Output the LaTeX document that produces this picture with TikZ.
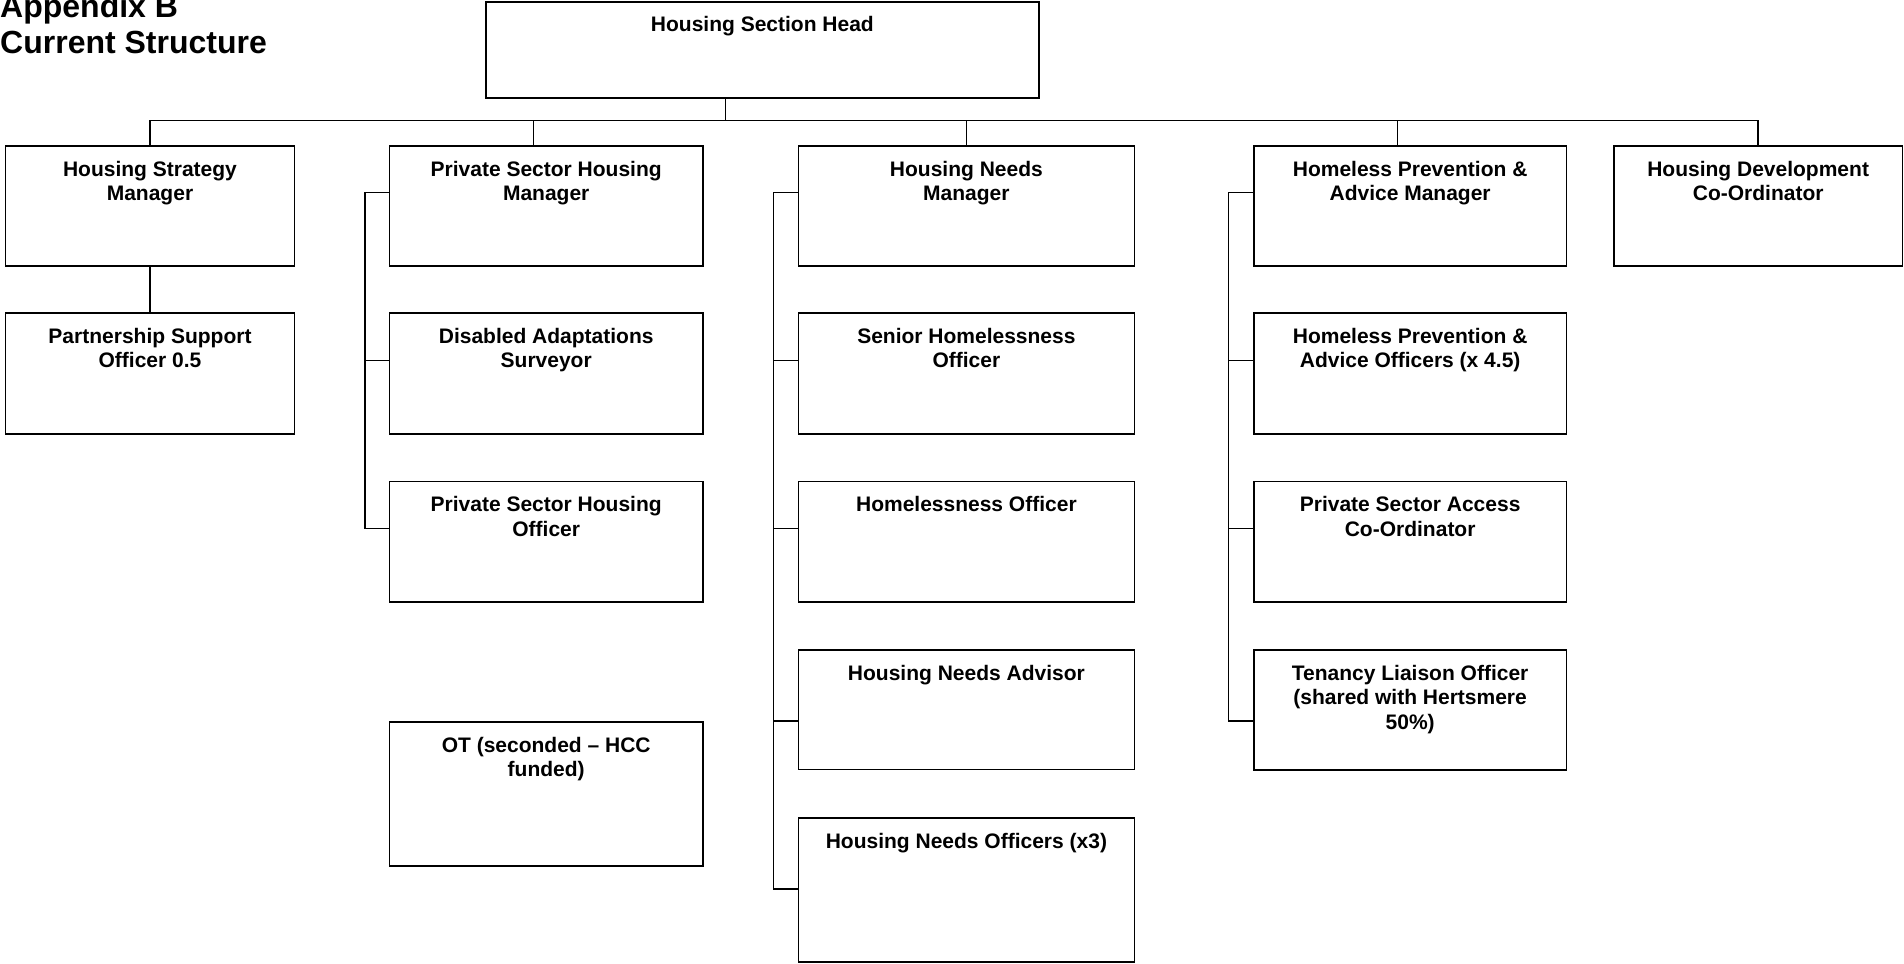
\documentclass[tikz,border=0pt]{standalone}
\usepackage{fontspec}
\setmainfont{Liberation Sans}
\begin{document}
\begin{tikzpicture}[x=1pt,y=-1pt,
  box/.style={draw, line width=1.8pt, rectangle, inner sep=0pt, anchor=north west},
  lbl/.style={anchor=north, inner sep=0pt, align=center, font=\fontsize{21}{24.5}\selectfont\bfseries},
  conn/.style={line width=1.5pt}]
\useasboundingbox (0,0) rectangle (1904,964);

% title
\node[anchor=north west, inner sep=0pt, align=left, font=\fontsize{32}{36.6}\selectfont\bfseries] (title) at (0,-6) {Appendix B\\Current Structure};

% boxes
\node[box, minimum width=553pt, minimum height=96pt] (head) at (485,1) {};
\node[box, minimum width=289pt, minimum height=120.3pt] (hsm) at (4.6,145) {};
\node[box, minimum width=313.4pt, minimum height=120.3pt] (pshm) at (388.6,145) {};
\node[box, minimum width=336pt, minimum height=120.3pt] (hnm) at (797.5,145) {};
\node[box, minimum width=312.5pt, minimum height=120.3pt] (hpam) at (1253,145) {};
\node[box, minimum width=288.5pt, minimum height=120.3pt] (hdc) at (1613,145) {};

\node[box, minimum width=289pt, minimum height=121pt] (pso) at (4.6,312.3) {};
\node[box, minimum width=313.4pt, minimum height=121pt] (das) at (388.6,312.3) {};
\node[box, minimum width=313.4pt, minimum height=120.5pt] (psho) at (388.6,480.5) {};
\node[box, minimum width=313.4pt, minimum height=144pt] (ot) at (388.6,721) {};

\node[box, minimum width=336pt, minimum height=121pt] (sho) at (797.5,312.3) {};
\node[box, minimum width=336pt, minimum height=120.5pt] (ho) at (797.5,480.5) {};
\node[box, minimum width=336pt, minimum height=119.5pt] (hna) at (797.5,649) {};
\node[box, minimum width=336pt, minimum height=144pt] (hno) at (797.5,817) {};

\node[box, minimum width=312.5pt, minimum height=121pt] (hpao) at (1253,312.3) {};
\node[box, minimum width=312.5pt, minimum height=120.5pt] (psac) at (1253,480.5) {};
\node[box, minimum width=312.5pt, minimum height=120pt] (tlo) at (1253,649) {};

% labels
\node[lbl] (l-head) at ([yshift=-15.4pt]head.north) {Housing Section Head};
\node[lbl] (l-hsm) at ([yshift=-15.7pt]hsm.north) {Housing Strategy\\Manager};
\node[lbl] (l-pshm) at ([yshift=-15.7pt]pshm.north) {Private Sector Housing\\Manager};
\node[lbl] (l-hnm) at ([yshift=-15.7pt]hnm.north) {Housing Needs\\Manager};
\node[lbl] (l-hpam) at ([yshift=-15.7pt]hpam.north) {Homeless Prevention \&\\Advice Manager};
\node[lbl] (l-hdc) at ([yshift=-15.7pt]hdc.north) {Housing Development\\Co-Ordinator};
\node[lbl] (l-pso) at ([yshift=-15.7pt]pso.north) {Partnership Support\\Officer 0.5};
\node[lbl] (l-das) at ([yshift=-15.7pt]das.north) {Disabled Adaptations\\Surveyor};
\node[lbl] (l-psho) at ([yshift=-15.7pt]psho.north) {Private Sector Housing\\Officer};
\node[lbl] (l-ot) at ([yshift=-15.7pt]ot.north) {OT (seconded – HCC\\funded)};
\node[lbl] (l-sho) at ([yshift=-15.7pt]sho.north) {Senior Homelessness\\Officer};
\node[lbl] (l-ho) at ([yshift=-15.7pt]ho.north) {Homelessness Officer};
\node[lbl] (l-hna) at ([yshift=-15.7pt]hna.north) {Housing Needs Advisor};
\node[lbl] (l-hno) at ([yshift=-15.7pt]hno.north) {Housing Needs Officers (x3)};
\node[lbl] (l-hpao) at ([yshift=-15.7pt]hpao.north) {Homeless Prevention \&\\Advice Officers (x 4.5)};
\node[lbl] (l-psac) at ([yshift=-15.7pt]psac.north) {Private Sector Access\\Co-Ordinator};
\node[lbl] (l-tlo) at ([yshift=-15.7pt]tlo.north) {Tenancy Liaison Officer\\(shared with Hertsmere\\50\%)};

% connectors
\coordinate (hstem) at (725.7,120.7);
\coordinate (pstem) at (533.5,120.7);
\coordinate (hpstem) at (1397.6,120.7);
\draw[conn] (head.south -| hstem) -- (hstem);
\draw[conn] (hsm.north) -- (hsm.north |- hstem) -- (hdc.north |- hstem) -- (hdc.north);
\draw[conn] (pstem) -- (pstem |- pshm.north);
\draw[conn] (hnm.north |- hstem) -- (hnm.north);
\draw[conn] (hpstem) -- (hpstem |- hpam.north);
\draw[conn] (hsm.south) -- (pso.north);

% private sector spine
\draw[conn] ([yshift=-47.3pt]pshm.north west) -- ++(-23.6pt,0) |- ([yshift=-48.2pt]psho.north west);
\draw[conn] ([yshift=-48.4pt]das.north west) -- ++(-23.6pt,0);

% housing needs spine
\draw[conn] ([yshift=-47.3pt]hnm.north west) -- ++(-24pt,0) |- ([yshift=-72pt]hno.north west);
\draw[conn] ([yshift=-48.4pt]sho.north west) -- ++(-24pt,0);
\draw[conn] ([yshift=-47.8pt]ho.north west) -- ++(-24pt,0);
\draw[conn] ([yshift=-71.8pt]hna.north west) -- ++(-24pt,0);

% homeless prevention spine
\draw[conn] ([yshift=-47.3pt]hpam.north west) -- ++(-24.6pt,0) |- ([yshift=-72pt]tlo.north west);
\draw[conn] ([yshift=-48.4pt]hpao.north west) -- ++(-24.6pt,0);
\draw[conn] ([yshift=-48.2pt]psac.north west) -- ++(-24.6pt,0);
\end{tikzpicture}
\end{document}
